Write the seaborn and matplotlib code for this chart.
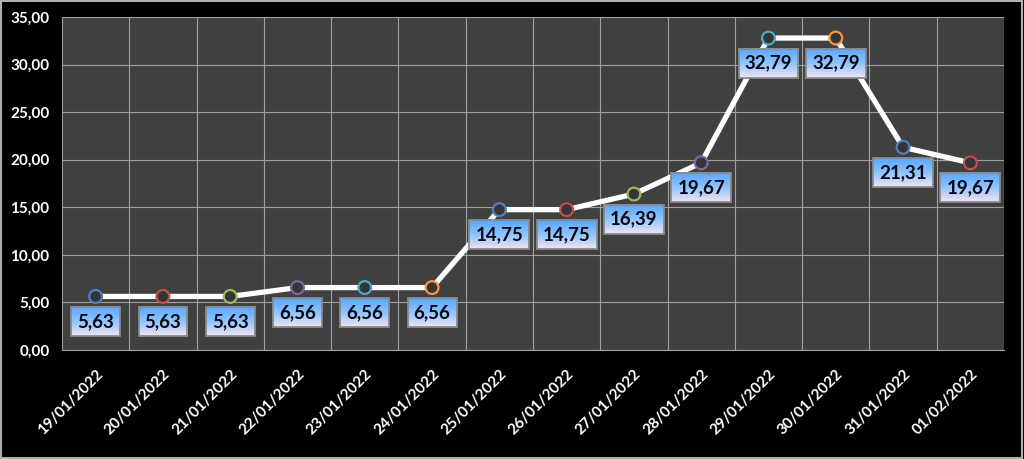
import numpy as np
import pandas as pd
import seaborn as sns
import matplotlib.pyplot as plt
from matplotlib.ticker import FuncFormatter, FixedLocator

dates = ["19/01/2022", "20/01/2022", "21/01/2022", "22/01/2022", "23/01/2022",
         "24/01/2022", "25/01/2022", "26/01/2022", "27/01/2022", "28/01/2022",
         "29/01/2022", "30/01/2022", "31/01/2022", "01/02/2022"]
values = [5.63, 5.63, 5.63, 6.56, 6.56, 6.56, 14.75, 14.75, 16.39, 19.67,
          32.79, 32.79, 21.31, 19.67]
marker_edges = ["#4F81BD", "#C0504D", "#9BBB59", "#8064A2", "#4BACC6", "#F79646"]

df = pd.DataFrame({"pos": np.arange(len(dates)), "value": values, "date": dates})

sns.set_style("dark")
plt.rcParams["font.family"] = ["Lato", "DejaVu Sans"]
plt.rcParams["font.weight"] = "bold"

fig = plt.figure(figsize=(10.24, 4.59), dpi=100, facecolor="black")
ax = fig.add_axes([62 / 1024, 1 - 350 / 459, 942 / 1024, 333 / 459])
ax.set_facecolor("#404040")

sns.lineplot(data=df, x="pos", y="value", color="white", linewidth=3.8, ax=ax, zorder=3)
edge_cols = [marker_edges[i % len(marker_edges)] for i in range(len(dates))]
ax.scatter(df["pos"], df["value"], s=85, c="#353535", edgecolors=edge_cols,
           linewidths=1.6, zorder=4)

ax.set_xlim(-0.5, len(dates) - 0.5)
ax.set_ylim(0, 35)
ax.set_yticks(np.arange(0, 36, 5))
ax.yaxis.set_major_formatter(FuncFormatter(lambda v, p: f"{v:.2f}".replace(".", ",")))
ax.set_xticks(df["pos"])
ax.set_xticklabels(dates, rotation=45, ha="right", rotation_mode="anchor")
ax.xaxis.set_minor_locator(FixedLocator(np.arange(-0.5, len(dates), 1)))
ax.tick_params(axis="x", which="major", length=0, colors="white", labelsize=11, pad=12)
ax.tick_params(axis="x", which="minor", length=5, color="#a0a0a0", width=1)
ax.tick_params(axis="y", length=5, color="#a0a0a0", colors="white", labelsize=11, pad=4)
ax.grid(False)
ax.grid(True, axis="y", which="major", color="#a0a0a0", linewidth=0.8)
ax.grid(True, axis="x", which="minor", color="#a0a0a0", linewidth=0.8)
ax.set_xlabel("")
ax.set_ylabel("")
for s in ax.spines.values():
    s.set_visible(False)
ax.spines["bottom"].set_visible(True)
ax.spines["bottom"].set_color("#a0a0a0")

# data labels below each point
labels = []
for x, v in zip(df["pos"], df["value"]):
    t = ax.annotate(f"{v:.2f}".replace(".", ","), (x, v), xytext=(0, -25),
                    textcoords="offset pixels",
                    ha="center", va="center", fontsize=13.5, fontweight="bold",
                    color="#080810", zorder=7,
                    bbox=dict(boxstyle="square,pad=0.32", facecolor="none",
                              edgecolor="#8a8a8a", linewidth=1.3))
    labels.append(t)

# gradient fill behind the label boxes
fig.canvas.draw()
renderer = fig.canvas.get_renderer()
g = np.linspace(0, 1, 64)[:, None]
top = np.array([0.35, 0.65, 1.0])
mid = np.array([0.55, 0.77, 1.0])
bot = np.array([0.95, 0.89, 0.95])
img = np.where(g[..., None] < 0.5,
               top + (mid - top) * (g[..., None] / 0.5),
               mid + (bot - mid) * ((g[..., None] - 0.5) / 0.5))
inv = ax.transData.inverted()
for t in labels:
    bb = t.get_bbox_patch().get_window_extent(renderer)
    (x0, y0), (x1, y1) = inv.transform([[bb.x0, bb.y0], [bb.x1, bb.y1]])
    ax.imshow(img, extent=[x0, x1, y0, y1], aspect="auto", zorder=6,
              interpolation="bilinear")
ax.set_xlim(-0.5, len(dates) - 0.5)
ax.set_ylim(0, 35)

fig.patches.append(plt.Rectangle((0.001, 0.002), 0.997, 0.995, transform=fig.transFigure,
                                 fill=False, edgecolor="#b0b0b0", linewidth=1.5))

fig.savefig("out.png", dpi=100, facecolor="black")
